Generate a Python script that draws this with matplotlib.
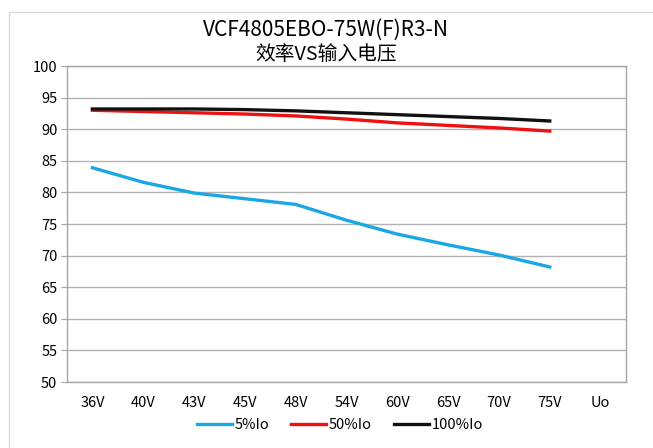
import matplotlib
matplotlib.use("Agg")
import matplotlib.pyplot as plt
import numpy as np
from matplotlib.patches import Rectangle

plt.rcParams['font.family'] = ['Noto Sans CJK SC', 'DejaVu Sans']

# -------------------------------
# Dados
# -------------------------------
categories = ["36V", "40V", "43V", "45V", "48V", "54V", "60V", "65V", "70V", "75V", "Uo"]
eff_5 = [83.9, 81.6, 79.9, 79.0, 78.1, 75.6, 73.4, 71.7, 70.1, 68.2, np.nan]
eff_50 = [93.0, 92.8, 92.6, 92.4, 92.1, 91.6, 91.0, 90.6, 90.2, 89.7, np.nan]
eff_100 = [93.2, 93.2, 93.2, 93.1, 92.9, 92.6, 92.3, 92.0, 91.7, 91.3, np.nan]
series_labels = ["5%Io", "50%Io", "100%Io"]
y_ticks = [50, 55, 60, 65, 70, 75, 80, 85, 90, 95, 100]

fig = plt.figure(figsize=(6.53, 4.48), dpi=100)
fig.patch.set_facecolor("white")

# moldura do gráfico
fig.patches.append(Rectangle((9 / 653, -0.05), 1.2, 1 - 12 / 448 + 0.05,
                             transform=fig.transFigure, fill=False,
                             edgecolor="#d9d9d9", linewidth=1.0))

ax = fig.add_axes([67 / 653, 1 - 382 / 448, (626 - 67) / 653, (382 - 66) / 448])

x = np.arange(len(categories))
ax.plot(x, eff_5, color="#1aa7e3", linewidth=2.4, label=series_labels[0])
ax.plot(x, eff_50, color="#ee1111", linewidth=2.4, label=series_labels[1])
ax.plot(x, eff_100, color="#111111", linewidth=2.4, label=series_labels[2])

ax.set_xlim(-0.5, len(categories) - 0.5)
ax.set_ylim(50, 100)
ax.set_yticks(y_ticks)
ax.set_xticks(x)
ax.set_xticklabels(categories)
ax.yaxis.grid(True, color="#b3b3b3", linewidth=1.0)
ax.set_axisbelow(True)
for sp in ax.spines.values():
    sp.set_color("#a6a6a6")
    sp.set_linewidth(1.0)
ax.tick_params(axis="y", length=4, color="#a6a6a6", labelsize=10.5, pad=3)
ax.tick_params(axis="x", length=0, labelsize=10.5, pad=10)

fig.text(326 / 653, 1 - 30 / 448, "VCF4805EBO-75W(F)R3-N", ha="center", va="center", fontsize=15)
fig.text(326 / 653, 1 - 55 / 448, "效率VS输入电压", ha="center", va="center", fontsize=14.2)

fig.legend(loc="center", bbox_to_anchor=(340 / 653, 1 - 425 / 448), ncol=3, frameon=False,
           fontsize=10.5, handlelength=2.4, handletextpad=0.2, columnspacing=1.5)

fig.savefig("out.png", dpi=100, facecolor="white")
